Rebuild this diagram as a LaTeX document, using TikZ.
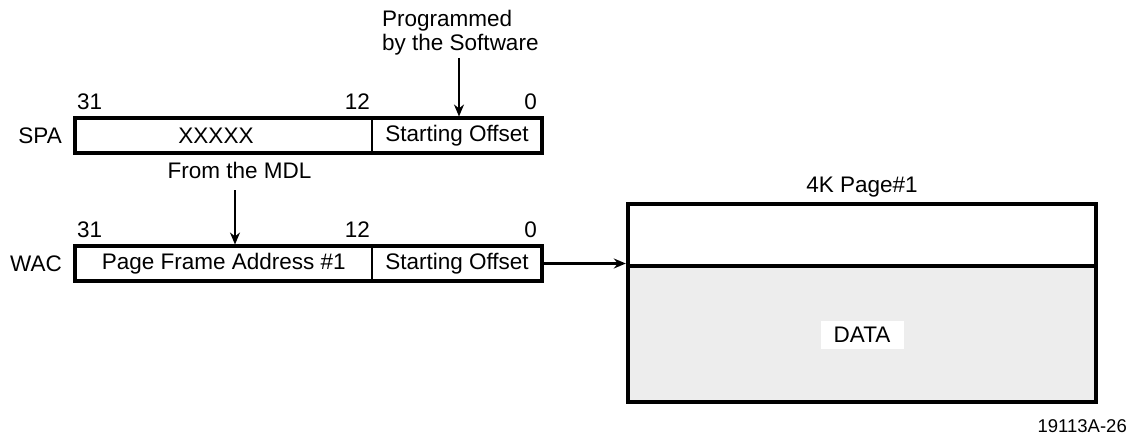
\documentclass[tikz,border=0pt]{standalone}
\usepackage{fontspec}
\setmainfont{Liberation Sans}
\usetikzlibrary{arrows.meta}
\begin{document}
\begin{tikzpicture}[x=1pt,y=-1pt,
  lbl/.style={inner sep=0pt, font=\fontsize{22.5}{24}\selectfont},
  small/.style={inner sep=0pt, font=\fontsize{18.5}{21}\selectfont},
  field/.style={inner sep=0pt, font=\fontsize{22.5}{24}\selectfont, minimum height=34pt},
  outer/.style={line width=4pt},
  divider/.style={line width=2pt},
  arr/.style={line width=2.3pt, -{Stealth[length=12pt,width=10pt]}}]
\useasboundingbox (0,0) rectangle (1138,436);
% SPA register
\node[field, minimum width=296.5pt] (spaHi) at (223.75,135.5) {};
\node[field, minimum width=170pt] (spaLo) at (457,135.5) {Starting Offset};
\node[lbl] (spaX) at (216,135.5) {XXXXX};
\draw[outer] (spaHi.north west) rectangle (spaLo.south east);
\draw[divider] (spaHi.north east) -- (spaHi.south east);
\node[lbl, anchor=east] (spa) at (62,135.5) {SPA};
\node[lbl, anchor=base west] (s31) at (77,110) {31};
\node[lbl, anchor=base east] (s12) at (370,110) {12};
\node[lbl, anchor=base east] (s0) at (537,110) {0};
% WAC register
\node[field, minimum width=296.5pt] (wacHi) at (223.75,263.5) {Page Frame Address \#1};
\node[field, minimum width=170pt] (wacLo) at (457,263.5) {Starting Offset};
\draw[outer] (wacHi.north west) rectangle (wacLo.south east);
\draw[divider] (wacHi.north east) -- (wacHi.south east);
\node[lbl, anchor=east] (wac) at (62,263.5) {WAC};
\node[lbl, anchor=base west] (w31) at (77,237) {31};
\node[lbl, anchor=base east] (w12) at (370,237) {12};
\node[lbl, anchor=base east] (w0) at (537,237) {0};
% annotations
\node[lbl, anchor=base west] (prog1) at (382,27) {Programmed};
\node[lbl, anchor=base west] (prog2) at (382,51) {by the Software};
\coordinate (progTop) at (459,58);
\coordinate (progTip) at (459,116.5);
\draw[arr] (progTop) -- (progTip);
\node[lbl, anchor=base] (mdl) at (239.5,178) {From the MDL};
\coordinate (mdlTop) at (235,190);
\coordinate (mdlTip) at (235,244.5);
\draw[arr] (mdlTop) -- (mdlTip);
% page
\node[inner sep=0pt, minimum width=468pt, minimum height=62pt] (pageTop) at (862,235) {};
\node[inner sep=0pt, minimum width=468pt, minimum height=136pt, fill={rgb,255:red,237;green,237;blue,237}] (pageData) at (862,334) {};
\draw[outer] (pageTop.north west) rectangle (pageData.south east);
\draw[outer] (pageData.north west) -- (pageData.north east);
\node[lbl, fill=white, minimum width=83pt, minimum height=28pt] (data) at (862,335) {DATA};
\node[lbl, anchor=base] (pagelbl) at (862,192) {4K Page\#1};
\draw[arr, shorten >=2pt] (wacLo.east) -- (wacLo.east -| pageData.north west);
\node[small, anchor=base east] (fig) at (1127,432) {19113A-26};
\end{tikzpicture}
\end{document}
